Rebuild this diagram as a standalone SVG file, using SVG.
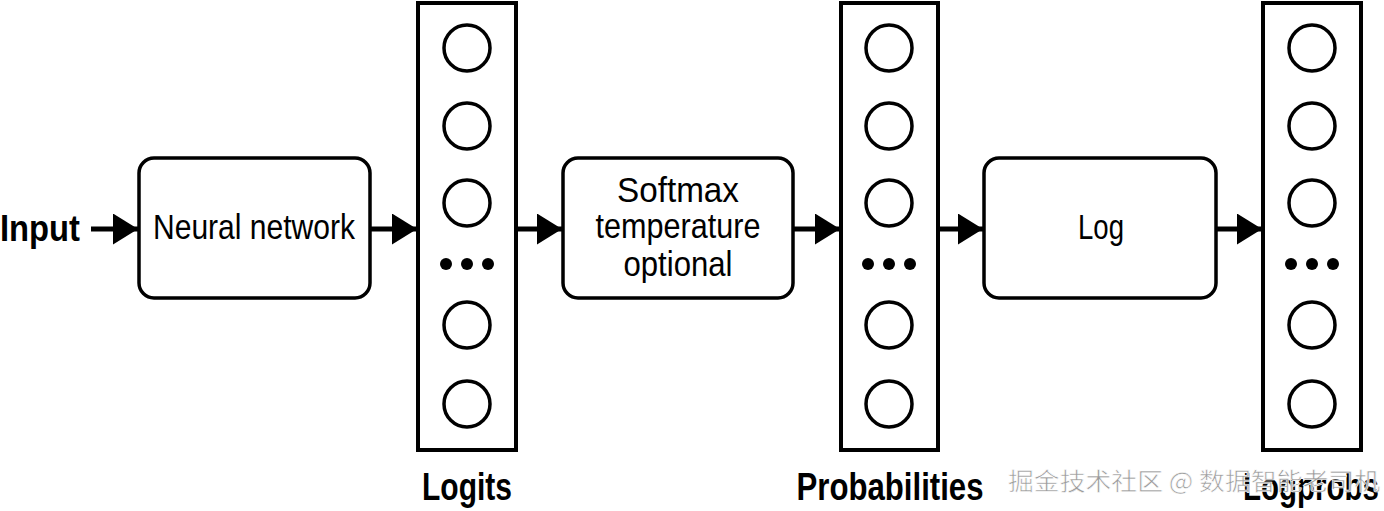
<svg xmlns="http://www.w3.org/2000/svg" width="1384" height="511" viewBox="0 0 1384 511">
<style>
.box{fill:#fff;stroke:#000;stroke-width:3.5}
.col{fill:#fff;stroke:#000;stroke-width:4}
.c{fill:none;stroke:#000;stroke-width:3.5}
.dot{fill:#000}
.t{font-family:"Liberation Sans Narrow","Liberation Sans",Arial,sans-serif;font-size:35px;fill:#000;text-anchor:middle}
.lbl{font-family:"Liberation Sans Narrow","Liberation Sans",Arial,sans-serif;font-size:39px;font-weight:bold;fill:#000;text-anchor:middle}
.conn{stroke:#000;stroke-width:5;fill:none}
.wm{font-family:"Noto Sans CJK SC",sans-serif;font-size:24px;fill:#9a9a9a;stroke:#fff;stroke-width:0.6}
</style>
<defs>
<g id="stack">
<circle class="c" cx="0" cy="48" r="23"/>
<circle class="c" cx="0" cy="126" r="23"/>
<circle class="c" cx="0" cy="203" r="23"/>
<circle class="dot" cx="-21" cy="264" r="6"/>
<circle class="dot" cx="0" cy="264" r="6"/>
<circle class="dot" cx="21" cy="264" r="6"/>
<circle class="c" cx="0" cy="325" r="23"/>
<circle class="c" cx="0" cy="404" r="23"/>
</g>
<marker id="ah" markerWidth="5" markerHeight="6.2" refX="5" refY="3.1" orient="auto" markerUnits="strokeWidth">
<path d="M0,0 L5,3.1 L0,6.2 Z" fill="#000"/>
</marker>
</defs>

<g id="input">
<text class="lbl" x="40" y="241" textLength="80" lengthAdjust="spacingAndGlyphs" style="font-size:36px">Input</text>
</g>

<g id="neural-network">
<rect class="box" x="139" y="158" width="231" height="140" rx="15"/>
<text class="t" x="254" y="239" textLength="202" lengthAdjust="spacingAndGlyphs">Neural network</text>
</g>

<g id="logits">
<rect class="col" x="418" y="3" width="98" height="447"/>
<use href="#stack" x="467" y="0"/>
<text class="lbl" x="467" y="500" textLength="90" lengthAdjust="spacingAndGlyphs">Logits</text>
</g>

<g id="softmax">
<rect class="box" x="563" y="158" width="230" height="140" rx="15"/>
<text class="t" x="678" y="202" textLength="122" lengthAdjust="spacingAndGlyphs">Softmax</text>
<text class="t" x="678" y="238" textLength="165" lengthAdjust="spacingAndGlyphs">temperature</text>
<text class="t" x="678" y="276" textLength="109" lengthAdjust="spacingAndGlyphs">optional</text>
</g>

<g id="probabilities">
<rect class="col" x="841" y="3" width="97" height="447"/>
<use href="#stack" x="889" y="0"/>
<text class="lbl" x="890" y="500" textLength="187" lengthAdjust="spacingAndGlyphs">Probabilities</text>
</g>

<g id="log">
<rect class="box" x="984" y="158" width="232" height="140" rx="15"/>
<text class="t" x="1101" y="239" textLength="46" lengthAdjust="spacingAndGlyphs">Log</text>
</g>

<g id="logprobs">
<rect class="col" x="1263" y="3" width="98" height="447"/>
<use href="#stack" x="1312" y="0"/>
<text class="lbl" x="1311" y="500" textLength="136" lengthAdjust="spacingAndGlyphs">Logprobs</text>
</g>

<g id="connectors">
<line class="conn" x1="91" y1="229" x2="138" y2="229" marker-end="url(#ah)"/>
<line class="conn" x1="371" y1="229" x2="417" y2="229" marker-end="url(#ah)"/>
<line class="conn" x1="516" y1="229" x2="562" y2="229" marker-end="url(#ah)"/>
<line class="conn" x1="794" y1="229" x2="840" y2="229" marker-end="url(#ah)"/>
<line class="conn" x1="938" y1="229" x2="983" y2="229" marker-end="url(#ah)"/>
<line class="conn" x1="1217" y1="229" x2="1262" y2="229" marker-end="url(#ah)"/>
</g>

<text class="wm" x="1008" y="490" textLength="372" lengthAdjust="spacingAndGlyphs">掘金技术社区 @ 数据智能老司机</text>
</svg>
